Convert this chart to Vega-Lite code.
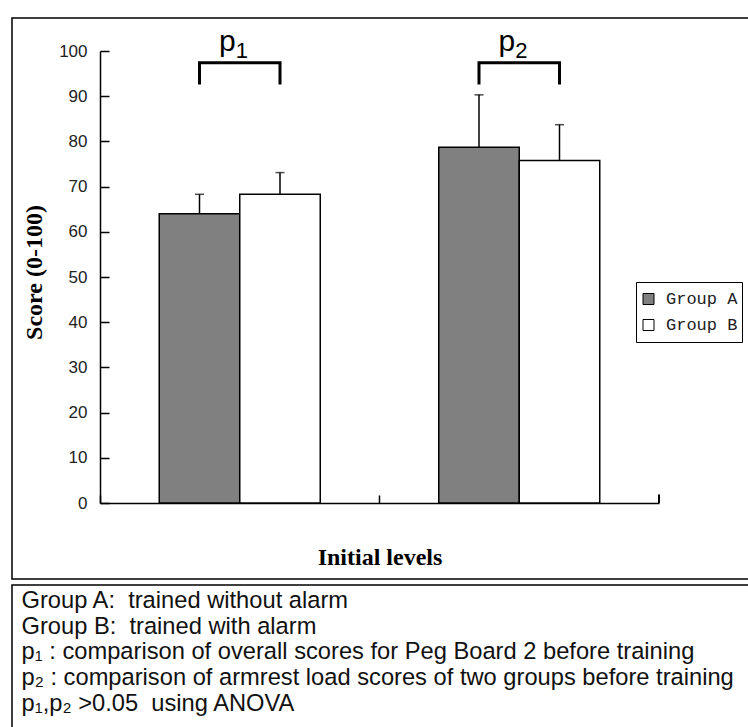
{
  "$schema": "https://vega.github.io/schema/vega-lite/v6.json",
  "padding": {"left": 11, "top": 17, "right": 0, "bottom": 0},
  "spacing": 4,
  "background": "white",
  "config": {
    "view": {"stroke": "black", "strokeWidth": 1.5},
    "font": "Liberation Sans"
  },
  "datasets": {
    "bars": [
      {"level": "Peg Board 2", "group": "Group A", "value": 64.0, "upper": 68.3},
      {"level": "Peg Board 2", "group": "Group B", "value": 68.3, "upper": 73.1},
      {"level": "Armrest load", "group": "Group A", "value": 78.7, "upper": 90.3},
      {"level": "Armrest load", "group": "Group B", "value": 75.8, "upper": 83.7}
    ],
    "brackets": [
      {"bracket": "p1", "level": "Peg Board 2", "group": "Group A", "seq": 1, "value": 92.6},
      {"bracket": "p1", "level": "Peg Board 2", "group": "Group A", "seq": 2, "value": 97.4},
      {"bracket": "p1", "level": "Peg Board 2", "group": "Group B", "seq": 3, "value": 97.4},
      {"bracket": "p1", "level": "Peg Board 2", "group": "Group B", "seq": 4, "value": 92.6},
      {"bracket": "p2", "level": "Armrest load", "group": "Group A", "seq": 1, "value": 92.6},
      {"bracket": "p2", "level": "Armrest load", "group": "Group A", "seq": 2, "value": 97.4},
      {"bracket": "p2", "level": "Armrest load", "group": "Group B", "seq": 3, "value": 97.4},
      {"bracket": "p2", "level": "Armrest load", "group": "Group B", "seq": 4, "value": 92.6}
    ],
    "plabels": [
      {"level": "Peg Board 2", "p": "p", "sub": "1", "pY": 99.9, "subY": 98.4},
      {"level": "Armrest load", "p": "p", "sub": "2", "pY": 99.9, "subY": 98.4}
    ],
    "notes": [
      {"line": 1, "text": "Group A:\u00a0 trained without alarm"},
      {"line": 2, "text": "Group B:\u00a0 trained with alarm"},
      {"line": 3, "text": "p₁ : comparison of overall scores for Peg Board 2 before training"},
      {"line": 4, "text": "p₂ : comparison of armrest load scores of two groups before training"},
      {"line": 5, "text": "p₁,p₂ >0.05\u00a0 using ANOVA"}
    ]
  },
  "vconcat": [
    {
      "width": 738,
      "height": 561,
      "layer": [
        {
          "data": {"name": "bars"},
          "mark": {"type": "bar", "stroke": "black", "strokeWidth": 1.5},
          "encoding": {
            "x": {
              "field": "level", "type": "nominal", "sort": ["Peg Board 2", "Armrest load"],
              "scale": {"range": [88, 647], "paddingInner": 0, "paddingOuter": 0},
              "axis": {
                "title": "Initial levels", "labels": false, "orient": "bottom", "offset": -76,
                "tickSize": -8, "bandPosition": 0, "domainColor": "black", "tickColor": "black",
                "domainWidth": 1.5, "tickWidth": 1.5,
                "titleFont": "Liberation Serif", "titleFontSize": 24, "titleFontWeight": "bold",
                "titleColor": "black", "titleY": 61, "titleBaseline": "alphabetic"
              }
            },
            "xOffset": {
              "field": "group", "type": "nominal",
              "scale": {"paddingInner": 0, "paddingOuter": 0.736}
            },
            "y": {
              "field": "value", "type": "quantitative",
              "scale": {"domain": [0, 100], "range": [485, 33], "nice": false},
              "axis": {
                "title": "Score (0-100)", "values": [0, 10, 20, 30, 40, 50, 60, 70, 80, 90, 100],
                "offset": -88, "tickSize": -9, "labelPadding": 22, "grid": false,
                "labelFont": "Liberation Sans", "labelFontSize": 17, "labelColor": "#222",
                "domainColor": "black", "tickColor": "black", "domainWidth": 1.5, "tickWidth": 1.5,
                "titleFont": "Liberation Serif", "titleFontSize": 24, "titleFontWeight": "bold",
                "titleColor": "black", "titleX": -66, "titleY": 254, "titleAngle": -90,
                "titleAlign": "center", "titleBaseline": "middle"
              }
            },
            "fill": {
              "field": "group", "type": "nominal",
              "scale": {"domain": ["Group A", "Group B"], "range": ["#808080", "#ffffff"]},
              "legend": {
                "title": null, "orient": "none", "legendX": 624, "legendY": 264,
                "strokeColor": "black", "fillColor": "white", "padding": 4,
                "symbolType": "square", "symbolSize": 121, "symbolStrokeColor": "black",
                "symbolStrokeWidth": 1, "symbolOpacity": 1,
                "labelFont": "Liberation Mono", "labelFontSize": 17, "labelColor": "#222",
                "labelOffset": 9, "clipHeight": 26, "rowPadding": 0
              }
            }
          }
        },
        {
          "data": {"name": "bars"},
          "mark": {"type": "rule", "color": "black", "strokeWidth": 1.5},
          "encoding": {
            "x": {"field": "level", "type": "nominal", "sort": ["Peg Board 2", "Armrest load"]},
            "xOffset": {"field": "group", "type": "nominal"},
            "y": {"field": "value", "type": "quantitative"},
            "y2": {"field": "upper"}
          }
        },
        {
          "data": {"name": "bars"},
          "mark": {"type": "tick", "color": "black", "thickness": 1.5, "size": 9, "orient": "horizontal"},
          "encoding": {
            "x": {"field": "level", "type": "nominal", "sort": ["Peg Board 2", "Armrest load"]},
            "xOffset": {"field": "group", "type": "nominal"},
            "y": {"field": "upper", "type": "quantitative"}
          }
        },
        {
          "data": {"name": "brackets"},
          "mark": {"type": "line", "color": "black", "strokeWidth": 3, "strokeJoin": "miter", "strokeCap": "butt"},
          "encoding": {
            "x": {"field": "level", "type": "nominal", "sort": ["Peg Board 2", "Armrest load"]},
            "xOffset": {"field": "group", "type": "nominal"},
            "y": {"field": "value", "type": "quantitative"},
            "detail": {"field": "bracket"},
            "order": {"field": "seq"}
          }
        },
        {
          "data": {"name": "plabels"},
          "mark": {"type": "text", "fontSize": 30, "align": "right", "baseline": "alphabetic", "dx": -4, "color": "black", "font": "Liberation Sans"},
          "encoding": {
            "x": {"field": "level", "type": "nominal", "sort": ["Peg Board 2", "Armrest load"]},
            "y": {"field": "pY", "type": "quantitative"},
            "text": {"field": "p"}
          }
        },
        {
          "data": {"name": "plabels"},
          "mark": {"type": "text", "fontSize": 22, "align": "left", "baseline": "alphabetic", "dx": -4, "color": "black", "font": "Liberation Sans"},
          "encoding": {
            "x": {"field": "level", "type": "nominal", "sort": ["Peg Board 2", "Armrest load"]},
            "y": {"field": "subY", "type": "quantitative"},
            "text": {"field": "sub"}
          }
        },
        {
          "data": {"name": "bars"},
          "mark": {"type": "rule", "color": "black", "strokeWidth": 1.5},
          "encoding": {
            "x": {"datum": "Armrest load", "type": "nominal", "bandPosition": 1},
            "y": {"datum": 0, "type": "quantitative"},
            "y2": {"datum": 1.8}
          }
        }
      ]
    },
    {
      "width": 738,
      "height": 150,
      "data": {"name": "notes"},
      "mark": {"type": "text", "align": "left", "baseline": "alphabetic", "fontSize": 23.7, "color": "#111", "font": "Liberation Sans"},
      "encoding": {
        "x": {"datum": 0, "type": "quantitative", "scale": {"domain": [0, 1], "range": [9.5, 700]}, "axis": null},
        "y": {"field": "line", "type": "quantitative", "scale": {"domain": [1, 5], "range": [23, 125.5]}, "axis": null},
        "text": {"field": "text"}
      }
    }
  ]
}
